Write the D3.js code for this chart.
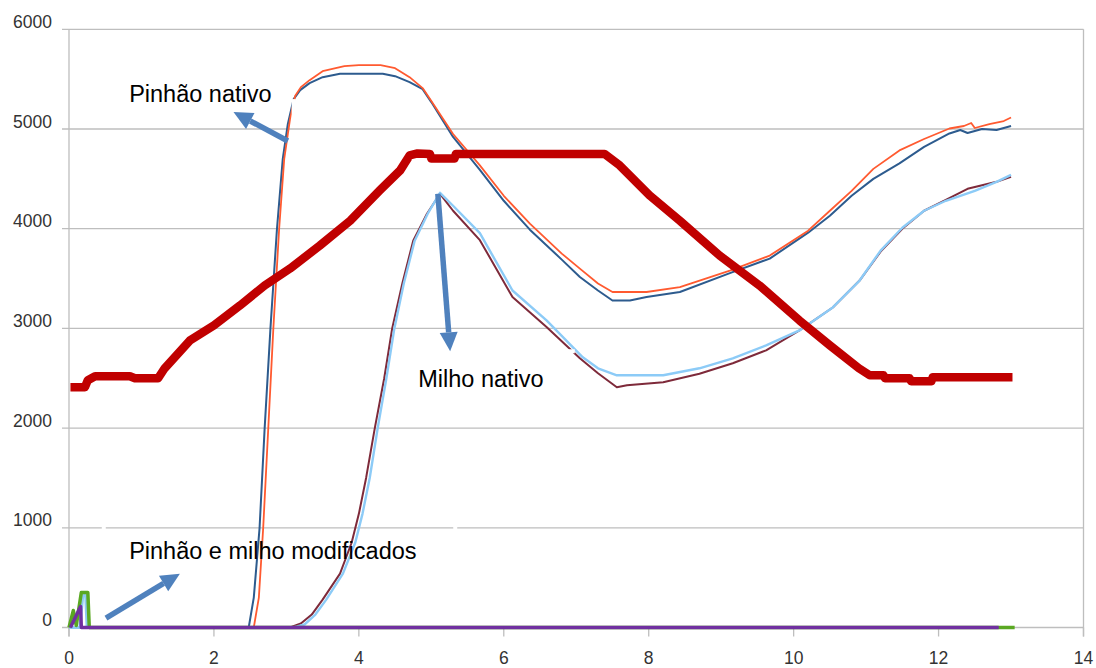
<!DOCTYPE html>
<html>
<head>
<meta charset="utf-8">
<script src="https://cdn.jsdelivr.net/npm/d3@7"></script>
<style>
  html, body { margin: 0; padding: 0; background: #ffffff; }
  svg { display: block; }
</style>
</head>
<body>
<svg id="chart" width="1096" height="668"></svg>
<script>
// ---------- data (x = time, y = value) ----------
const xTicks = [0, 2, 4, 6, 8, 10, 12, 14];
const yTicks = [0, 1000, 2000, 3000, 4000, 5000, 6000];

// thick red profile
const perfil = [
  [0.02,2410],[0.22,2410],[0.26,2480],[0.36,2520],[0.84,2520],[0.91,2500],[1.23,2500],
  [1.32,2600],[1.67,2880],[2.0,3030],[2.36,3230],[2.7,3430],[3.05,3600],[3.46,3830],
  [3.88,4080],[4.29,4385],[4.57,4585],[4.7,4735],[4.81,4755],[4.98,4750],[5.0,4705],
  [5.32,4705],[5.34,4750],[7.39,4750],[7.6,4635],[8.01,4335],[8.43,4080],[8.98,3730],
  [9.53,3430],[10.08,3080],[10.5,2830],[10.9,2600],[11.05,2530],[11.24,2530],[11.26,2500],
  [11.6,2500],[11.62,2470],[11.9,2470],[11.92,2510],[13.02,2510]
];

// Pinhão nativo (orange)
const pinhaoA = [
  [0,0],[2.55,0],[2.62,300],[2.68,1000],[2.75,2000],[2.82,3000],[2.9,4000],[2.97,4700],
  [3.05,5100],[3.12,5330],[3.2,5420],[3.32,5490],[3.5,5580],[3.8,5630],[4.0,5640],
  [4.3,5640],[4.5,5610],[4.7,5520],[4.88,5410],[5.0,5280],[5.3,4950],[5.67,4635],
  [6.0,4330],[6.36,4050],[6.8,3750],[7.05,3600],[7.3,3450],[7.5,3365],[7.97,3365],
  [8.43,3415],[9.12,3580],[9.67,3730],[10.2,3980],[10.5,4180],[10.8,4380],[11.1,4600],
  [11.46,4785],[11.8,4900],[12.15,5005],[12.35,5030],[12.45,5060],[12.5,5010],
  [12.7,5050],[12.9,5080],[13.0,5115]
];
// Pinhão nativo (dark blue)
const pinhaoB = [
  [0,0],[2.48,0],[2.55,300],[2.63,1000],[2.7,2000],[2.78,3000],[2.87,4000],[2.95,4700],
  [3.02,5050],[3.1,5300],[3.19,5390],[3.32,5460],[3.5,5520],[3.74,5555],[4.33,5555],
  [4.5,5530],[4.7,5470],[4.88,5400],[5.0,5270],[5.3,4920],[5.67,4590],[6.0,4280],
  [6.36,3990],[6.8,3690],[7.05,3515],[7.3,3380],[7.5,3280],[7.74,3280],[7.97,3315],
  [8.43,3365],[9.12,3555],[9.67,3700],[10.2,3960],[10.5,4130],[10.8,4330],[11.1,4500],
  [11.46,4655],[11.8,4820],[12.15,4955],[12.3,4990],[12.4,4960],[12.6,5000],
  [12.8,4990],[13.0,5030]
];
// Milho nativo (maroon)
const milhoA = [
  [3.05,0],[3.2,40],[3.35,130],[3.5,280],[3.74,540],[3.9,850],[4.0,1140],[4.1,1500],
  [4.22,2000],[4.35,2500],[4.46,3000],[4.6,3450],[4.75,3880],[4.94,4150],[5.12,4350],
  [5.3,4180],[5.67,3885],[6.12,3315],[6.59,3015],[7.05,2700],[7.3,2550],[7.56,2410],
  [7.7,2430],[8.2,2460],[8.7,2545],[9.16,2650],[9.62,2780],[10.08,2980],[10.54,3210],
  [10.91,3480],[11.2,3770],[11.5,4000],[11.8,4180],[12.1,4290],[12.4,4400],[12.8,4470],
  [13.0,4520]
];
// Milho nativo (light blue)
const milhoB = [
  [3.1,0],[3.25,30],[3.4,130],[3.55,280],[3.78,540],[3.95,850],[4.05,1140],[4.15,1500],
  [4.26,2000],[4.38,2500],[4.49,3000],[4.62,3450],[4.77,3880],[4.95,4150],[5.12,4360],
  [5.3,4230],[5.67,3955],[6.12,3380],[6.59,3080],[7.09,2710],[7.3,2600],[7.56,2530],
  [8.2,2530],[8.7,2600],[9.16,2700],[9.62,2830],[10.08,2980],[10.54,3210],[10.91,3480],
  [11.2,3780],[11.5,4010],[11.8,4180],[12.1,4280],[12.5,4380],[12.8,4470],[13.0,4540]
];
// Pinhão e milho modificados
const modVerde = [[0,0],[0.06,170],[0.1,20],[0.17,350],[0.26,350],[0.28,0],[13.05,0]];
const modAzul = [[0,0],[0.15,0],[0.19,320],[0.23,320],[0.25,0],[12.8,0]];
const modRoxo = [[0.02,0],[0.16,210],[0.17,0],[12.83,0]];

const labels = [
  {text: "Pinhão nativo", x: 0.83, y: 5270},
  {text: "Milho nativo", x: 4.82, y: 2410},
  {text: "Pinhão e milho modificados", x: 0.83, y: 690}
];
const arrows = [
  {from: [3.02, 4880], to: [2.27, 5170]},
  {from: [5.09, 4350], to: [5.26, 2770]},
  {from: [0.51, 95], to: [1.53, 540]}
];
// white edges of the text boxes that cut the marks beneath them
const cuts = [
  {x0: 3.1, y0: 5300, x1: 3.1, y1: 5080},
  {x0: 4.57, y0: 2770, x1: 6.98, y1: 2770},
  {x0: 0.48, y0: 1040, x1: 0.48, y1: 960},
  {x0: 5.33, y0: 1040, x1: 5.33, y1: 960}
];

// ---------- drawing ----------
const svg = d3.select("#chart");
const x = d3.scaleLinear().domain([0, 14]).range([69, 1083.5]);
const y = d3.scaleLinear().domain([0, 6000]).range([627.5, 29.3]);
const gridColor = "#BEBEBE";

// gridlines
svg.append("g").selectAll("line").data(yTicks).join("line")
  .attr("x1", x(0) - 7).attr("x2", x(14))
  .attr("y1", d => y(d)).attr("y2", d => y(d))
  .attr("stroke", gridColor).attr("stroke-width", 1.3);
// left axis and right border
[0, 14].forEach(v => {
  svg.append("line").attr("x1", x(v)).attr("x2", x(v))
    .attr("y1", y(6000)).attr("y2", y(0) + 9)
    .attr("stroke", gridColor).attr("stroke-width", 1.3);
});
// x ticks
svg.append("g").selectAll("line").data(xTicks).join("line")
  .attr("x1", d => x(d)).attr("x2", d => x(d))
  .attr("y1", y(0)).attr("y2", y(0) + 9)
  .attr("stroke", gridColor).attr("stroke-width", 1.3);

// tick labels
svg.append("g").selectAll("text").data(yTicks).join("text")
  .attr("x", 52).attr("y", d => y(d) - 1.5)
  .attr("text-anchor", "end")
  .attr("font-family", "Liberation Sans, Arial, sans-serif")
  .attr("font-size", 17.5).attr("fill", "#333")
  .text(d => d);
svg.append("g").selectAll("text").data(xTicks).join("text")
  .attr("x", d => x(d)).attr("y", 664)
  .attr("text-anchor", "middle")
  .attr("font-family", "Liberation Sans, Arial, sans-serif")
  .attr("font-size", 17.5).attr("fill", "#333")
  .text(d => d);

const line = d3.line().x(d => x(d[0])).y(d => y(d[1]));
function drawSeries(data, color, width) {
  svg.append("path").datum(data)
    .attr("d", line).attr("fill", "none")
    .attr("stroke", color).attr("stroke-width", width)
    .attr("stroke-linejoin", "round").attr("stroke-linecap", "butt");
}

drawSeries(milhoA, "#7E2A3A", 2);
drawSeries(milhoB, "#8CCBF7", 2.4);
drawSeries(pinhaoB, "#2D5B8E", 2);
drawSeries(pinhaoA, "#FF5A30", 1.8);
drawSeries(modAzul, "#8EC9F2", 3);
drawSeries(modVerde, "#5AA822", 3.5);
drawSeries(modRoxo, "#7030A0", 3.5);
drawSeries(perfil, "#C00000", 8.5);

// white box edges
svg.append("g").selectAll("line").data(cuts).join("line")
  .attr("x1", d => x(d.x0)).attr("y1", d => y(d.y0))
  .attr("x2", d => x(d.x1)).attr("y2", d => y(d.y1))
  .attr("stroke", "#ffffff").attr("stroke-width", 4);

// arrows
const arrowColor = "#4F81BD";
arrows.forEach(a => {
  const x1 = x(a.from[0]), y1 = y(a.from[1]);
  const x2 = x(a.to[0]), y2 = y(a.to[1]);
  const ang = Math.atan2(y2 - y1, x2 - x1);
  const headLen = 19, headW = 9;
  const bx = x2 - headLen * Math.cos(ang), by = y2 - headLen * Math.sin(ang);
  svg.append("line").attr("x1", x1).attr("y1", y1).attr("x2", bx).attr("y2", by)
    .attr("stroke", arrowColor).attr("stroke-width", 5.5);
  const px = -Math.sin(ang), py = Math.cos(ang);
  svg.append("polygon")
    .attr("points", [[x2, y2], [bx + px * headW, by + py * headW], [bx - px * headW, by - py * headW]].map(p => p.join(",")).join(" "))
    .attr("fill", arrowColor);
});

// annotation texts
svg.append("g").selectAll("text").data(labels).join("text")
  .attr("x", d => x(d.x)).attr("y", d => y(d.y))
  .attr("font-family", "Liberation Sans, Arial, sans-serif")
  .attr("font-size", 23.5).attr("fill", "#000")
  .text(d => d.text);
</script>
</body>
</html>
